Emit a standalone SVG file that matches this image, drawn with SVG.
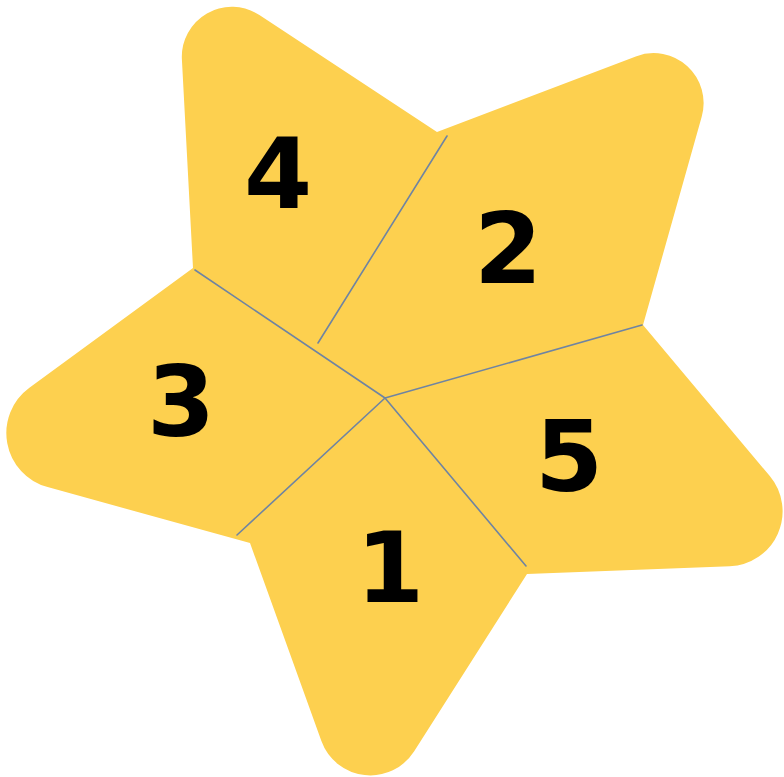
<svg xmlns="http://www.w3.org/2000/svg" width="784" height="777" viewBox="0 0 784 777">
<style>
.star{fill:#FDD04F;stroke:none}
.div{stroke:#6F84A2;stroke-width:1.6;fill:none;stroke-linecap:round}
.num{font-family:"DejaVu Sans",sans-serif;font-weight:bold;font-size:98px;fill:#000;text-anchor:middle}
</style>
<rect width="784" height="777" fill="#ffffff"/>
<g id="star">
<path class="star" d="M 193 268 L 181.9 59.5 A 50 50 0 0 1 259.4 15.05 L 437 132 L 635.8 56.4 A 50 50 0 0 1 701.7 116.8 L 643 325 L 769.8 476.1 A 55 55 0 0 1 729.8 566.3 L 527 574 L 414.2 751.3 A 52 52 0 0 1 321.4 741.1 L 250 543 L 47.6 487.1 A 56 56 0 0 1 29.4 387.8 Z"/>
</g>
<g id="connectors">
<line class="div" x1="385" y1="398" x2="195" y2="270"/>
<line class="div" x1="385" y1="398" x2="642" y2="325"/>
<line class="div" x1="385" y1="398" x2="526" y2="566"/>
<line class="div" x1="385" y1="398" x2="237" y2="535"/>
<line class="div" x1="447" y1="136" x2="318" y2="343"/>
</g>
<g id="region4"><text class="num" x="278" y="208">4</text></g>
<g id="region2"><text class="num" x="508" y="283">2</text></g>
<g id="region3"><text class="num" x="181" y="436">3</text></g>
<g id="region5"><text class="num" x="569" y="491">5</text></g>
<g id="region1"><text class="num" x="390" y="602">1</text></g>
</svg>
